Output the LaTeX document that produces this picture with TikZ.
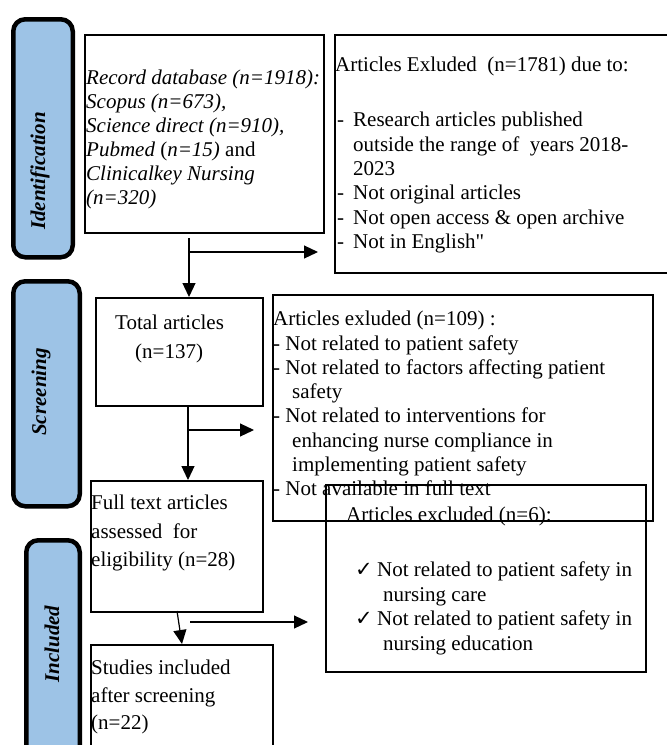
\documentclass[tikz,border=0pt]{standalone}
\usepackage{fontspec}
\setmainfont{Liberation Serif}
\newfontfamily\rawserif{Liberation Serif}
\newfontfamily\symfont{DejaVu Sans}
\usetikzlibrary{arrows.meta}
\definecolor{pillblue}{HTML}{9DC3E6}
\newcommand{\dashitem}{\makebox[16pt][l]{-}}
\newcommand{\chkitem}{\makebox[22pt][l]{\fontsize{21}{21}\symfont ✓}}
\begin{document}
\begin{tikzpicture}[x=1pt,y=-1pt,
 box/.style={draw, line width=2pt, inner sep=0, anchor=north west},
 pill/.style={draw, fill=pillblue, line width=4.5pt, rounded corners=12pt, inner sep=0, anchor=north west},
 txt/.style={anchor=north west, inner sep=0, align=left, font=\fontsize{21}{24}\selectfont},
 lbl/.style={rotate=90, font=\fontsize{21}{24}\selectfont\bfseries\itshape, inner sep=0},
 arr/.style={line width=1.2pt, -{Triangle[length=14pt,width=13pt]}},
]
\clip (0,0) rectangle (667,745);
% pills
\node[pill, minimum width=59.5pt, minimum height=238pt] (p1) at (11,17) {};
\node[pill, minimum width=66.5pt, minimum height=225pt] (p2) at (11,279) {};
\node[pill, minimum width=53.5pt, minimum height=232pt] (p3) at (24,538) {};
\node[lbl] (l1) at (40,171) {Identification};
\node[lbl] (l2) at (41,392) {Screening};
\node[lbl] (l3) at (52,644) {Included};
% boxes
\node[box, minimum width=239pt, minimum height=198pt] (b1) at (84,34) {};
\node[box, minimum width=341pt, minimum height=238pt] (b2) at (334,34) {};
\node[box, minimum width=167pt, minimum height=108pt] (b3) at (95,297) {};
\node[box, minimum width=380pt, minimum height=226pt] (b4) at (272,294) {};
\node[box, minimum width=172pt, minimum height=131pt] (b5) at (90,480) {};
\node[box, minimum width=320pt, minimum height=187pt] (b6) at (325,484) {};
\node[box, minimum width=182pt, minimum height=126pt] (b7) at (90,644) {};
% texts
\node[txt] (t1) at (86,70) {\itshape Record database (n=1918):\\
\itshape Scopus (n=673),\\
\itshape Science direct (n=910),\\
\textit{Pubmed} (\textit{n=15)} and\\
\itshape Clinicalkey Nursing\\
\itshape (n=320)};
\node[txt] (t2a) at (335,57) {Articles Exluded\ \ (n=1781) due to:};
\node[txt, font=\fontsize{21}{24.4}\selectfont] (t2b) at (337,112) {\dashitem Research articles published\\
\hspace*{16pt}outside the range of\ \ years 2018-\\
\hspace*{16pt}2023\\
\dashitem Not original articles\\
\dashitem Not open access \& open archive\\
\dashitem Not in English{\rawserif "}};
\node[txt] (t3a) at (115,315) {Total articles};
\node[txt] (t3b) at (135,344) {(n=137)};
\node[txt, font=\fontsize{21}{24.3}\selectfont] (t4) at (273,311) {Articles exluded (n=109) :\\
- Not related to patient safety\\
- Not related to factors affecting patient\\
\hspace*{19pt}safety\\
- Not related to interventions for\\
\hspace*{19pt}enhancing nurse compliance in\\
\hspace*{19pt}implementing patient safety\\
- Not available in full text};
\node[txt, font=\fontsize{21}{28.5}\selectfont] (t5) at (91,495) {Full text articles\\
assessed\ \ for\\
eligibility (n=28)};
\node[txt] (t6a) at (346,507) {Articles excluded (n=6):};
\node[txt, font=\fontsize{21}{24.5}\selectfont] (t6b) at (355,562) {\chkitem Not related to patient safety in\\
\hspace*{28pt}nursing care\\
\chkitem Not related to patient safety in\\
\hspace*{28pt}nursing education};
\node[txt, font=\fontsize{21}{27.5}\selectfont] (t7) at (91,660) {Studies included\\
after screening\\
(n=22)};
% connectors
\coordinate (c1) at (189,238);
\coordinate (c1h) at (189,252);
\coordinate (e1h) at (318,252);
\draw[arr] (c1) -- (c1 |- b3.north);
\draw[arr] (c1h) -- (e1h);
\coordinate (c2) at (188,405);
\coordinate (c2h) at (189,430);
\coordinate (e2h) at (254,430);
\draw[arr] (c2) -- (c2 |- b5.north);
\draw[arr] (c2h) -- (e2h);
\coordinate (c3) at (177,611);
\coordinate (e3) at (182,644);
\coordinate (c3h) at (190,622);
\coordinate (e3h) at (308,622);
\draw[arr] (c3) -- (e3);
\draw[arr] (c3h) -- (e3h);
\end{tikzpicture}
\end{document}
